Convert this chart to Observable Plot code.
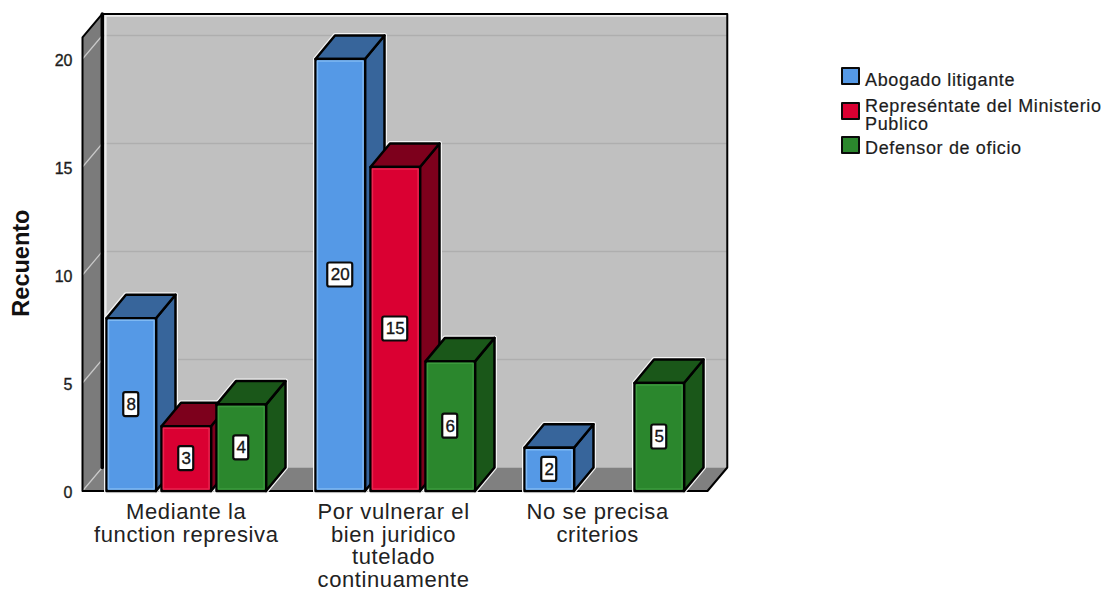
<!DOCTYPE html>
<html lang="es">
<head>
<meta charset="utf-8">
<script src="https://cdn.jsdelivr.net/npm/d3@7"></script>
<script src="https://cdn.jsdelivr.net/npm/@observablehq/plot@0.6"></script>
<style>
  html, body { margin: 0; padding: 0; background: #fff; }
  #chart { position: relative; width: 1108px; height: 594px; overflow: hidden; font-family: "Liberation Sans", Arial, sans-serif; }
  #chart svg { display: block; position: absolute; left: 0; top: 0; }
  #chart .cat-label { letter-spacing: .6px; }
  #chart .heavy { stroke: #222; stroke-width: .35px; }
  .legend { position: absolute; left: 841px; top: 67px; color: #1c1c1c; font-size: 18px; line-height: 18px; letter-spacing: .65px; -webkit-text-stroke: .2px #1c1c1c; }
  .legend .swatch { position: absolute; left: 0; width: 15px; height: 14px; border: 2.5px solid #0a0a0a; border-radius: 1px; }
  .legend .name { position: absolute; left: 24px; white-space: pre; }
</style>
</head>
<body>
<div id="chart"></div>
<script>
// Counts per response category and respondent group
const categories = ["Mediante la\nfunction represiva", "Por vulnerar el\nbien juridico\ntutelado\ncontinuamente", "No se precisa\ncriterios"];
const seriesNames = ["Abogado litigante", "Represéntate del Ministerio\nPublico", "Defensor de oficio"];
const abogado = [8, 20, 2];
const ministerio = [3, 15, null];
const defensor = [4, 6, 5];
const yTicks = [0, 5, 10, 15, 20];

// Front, side and inner-highlight colours of each series
const frontColors = ["#5599e6", "#da0032", "#2b872d"];
const sideColors = ["#37659b", "#7d001c", "#1a5719"];
const glowColors = ["#7fb9f3", "#e8244f", "#3c9a3e"];

// Box geometry in axis units: x counts bar slots, y counts cases
const barWidth = 49.5 / 55, groupStep = 3.8, depthX = 19.5 / 55, depthY = 23.5 / 21.6;
const wallLeft = -24 / 55, wallRight = 601 / 55, wallTop = 21;

const series = [abogado, ministerio, defensor];
const pt = (x, y) => ({x, y});
const polygon = (points, fill, stroke, strokeWidth) =>
  Plot.line(points, {x: "x", y: "y", fill, stroke, strokeWidth, curve: "linear-closed", strokeLinejoin: "round"});
const segment = (points, stroke, strokeWidth) =>
  Plot.line(points, {x: "x", y: "y", stroke, strokeWidth, strokeLinejoin: "round"});

const marks = [];

// Chart box: back wall, left wall and floor
const backLeft = wallLeft + depthX + 0.005, backRight = wallRight + depthX + 0.005;
marks.push(
  polygon([pt(backLeft, depthY), pt(backRight, depthY), pt(backRight, wallTop + depthY), pt(backLeft, wallTop + depthY)], "#c0c0c0", "none", 0),
  polygon([pt(wallLeft, 0), pt(backLeft, depthY), pt(backLeft, wallTop + depthY), pt(wallLeft, wallTop)], "#7b7b7b", "none", 0),
  polygon([pt(wallLeft, 0), pt(backLeft, depthY), pt(backRight, depthY), pt(wallRight, 0)], "#808080", "none", 0)
);

// Value gridlines run along the back wall and down the left wall
for (const v of yTicks) {
  if (v > 0) marks.push(segment([pt(backLeft, v + depthY), pt(backRight, v + depthY)], "#aeaeae", 1.5));
  marks.push(segment([pt(wallLeft, v), pt(backLeft, v + depthY)], "#c9c9c9", 1.2));
}

// Box outline with the pale inner edge of the back wall
marks.push(
  segment([pt(backLeft + 0.06, depthY), pt(backLeft + 0.06, wallTop + depthY - 0.09), pt(backRight, wallTop + depthY - 0.09)], "#ececec", 2),
  segment([pt(backLeft, depthY), pt(backLeft, wallTop + depthY)], "#000", 3.5),
  segment([pt(wallLeft, 0), pt(wallLeft, wallTop), pt(backLeft, wallTop + depthY), pt(backRight, wallTop + depthY), pt(backRight, depthY), pt(wallRight, 0), pt(wallLeft, 0)], "#000", 2)
);

// Bars, left to right so each front covers the side of its neighbour
const labels = [];
const halos = [];
const faces = [];
categories.forEach((_, c) => {
  series.forEach((values, s) => {
    const v = values[c];
    if (v == null) return;
    const x0 = c * groupStep + s, x1 = x0 + barWidth;
    const insetX = 0.035, insetY = 0.09;
    halos.push(polygon([pt(x0, 0), pt(x0, v), pt(x0 + depthX, v + depthY), pt(x1 + depthX, v + depthY), pt(x1 + depthX, depthY), pt(x1, 0)], "#f4f4f4", "#f4f4f4", 5));
    faces.push(
      polygon([pt(x1, 0), pt(x1, v), pt(x1 + depthX, v + depthY), pt(x1 + depthX, depthY)], sideColors[s], "#000", 2.5),
      polygon([pt(x0, v), pt(x1, v), pt(x1 + depthX, v + depthY), pt(x0 + depthX, v + depthY)], sideColors[s], "#000", 2.5),
      polygon([pt(x0, 0), pt(x1, 0), pt(x1, v), pt(x0, v)], frontColors[s], "#000", 2.5),
      polygon([pt(x0 + insetX, insetY), pt(x1 - insetX, insetY), pt(x1 - insetX, v - insetY), pt(x0 + insetX, v - insetY)], "none", glowColors[s], 1.5)
    );
    labels.push({x: (x0 + x1) / 2, y: v / 2, v});
  });
});
marks.push(...halos, ...faces);

// Value tags in the middle of each bar front
const tagHalfWidth = d => (d.v >= 10 ? 12.5 : 7.5) / 55;
marks.push(
  Plot.rect(labels, {
    x1: d => d.x - tagHalfWidth(d), x2: d => d.x + tagHalfWidth(d),
    y1: d => d.y - 12 / 21.6, y2: d => d.y + 12 / 21.6,
    fill: "#fff", stroke: "#0a0a0a", strokeWidth: 2.2, rx: 2
  }),
  Plot.text(labels, {x: "x", y: "y", text: d => String(d.v), fontSize: 17, fill: "#111", className: "heavy"})
);

// Axis text
const catCenters = categories.map((_, c) => c * groupStep + 1 + barWidth / 2 - 0.03 * c * c);
marks.push(
  Plot.text(categories, {
    x: (_, i) => catCenters[i], y: () => 0, text: d => d,
    lineAnchor: "top", lineHeight: 1.03, dy: 12, fontSize: 22, fill: "#222", className: "cat-label"
  }),
  Plot.axisY({ticks: yTicks, tickSize: 0, tickPadding: 9, fontSize: 16, color: "#1c1c1c", dy: 2, label: null, className: "heavy"}),
  Plot.text(["Recuento"], {
    x: () => wallLeft, y: () => 10.55, text: d => d, rotate: -90,
    dx: -61, fontSize: 23.5, fontWeight: "bold", fill: "#111"
  })
);

const plot = Plot.plot({
  width: 1108,
  height: 594,
  marginTop: 0, marginBottom: 0, marginRight: 0, marginLeft: 81,
  style: {fontFamily: "'Liberation Sans', Arial, sans-serif", background: "transparent", overflow: "visible"},
  x: {type: "linear", domain: [-25 / 55, 1002 / 55], axis: null},
  y: {type: "linear", domain: [-103.5 / 21.6, 490.5 / 21.6]},
  marks
});

const chart = document.getElementById("chart");
chart.appendChild(plot);

// Series key on the right of the box
const legend = d3.select(chart).append("div").attr("class", "legend");
const rowTops = [0, 35, 69];
const nameTops = [4, 30, 72];
seriesNames.forEach((name, i) => {
  legend.append("div").attr("class", "swatch").style("top", rowTops[i] + "px").style("background", frontColors[i]);
  legend.append("div").attr("class", "name").style("top", nameTops[i] + "px").text(name);
});
</script>
</body>
</html>
